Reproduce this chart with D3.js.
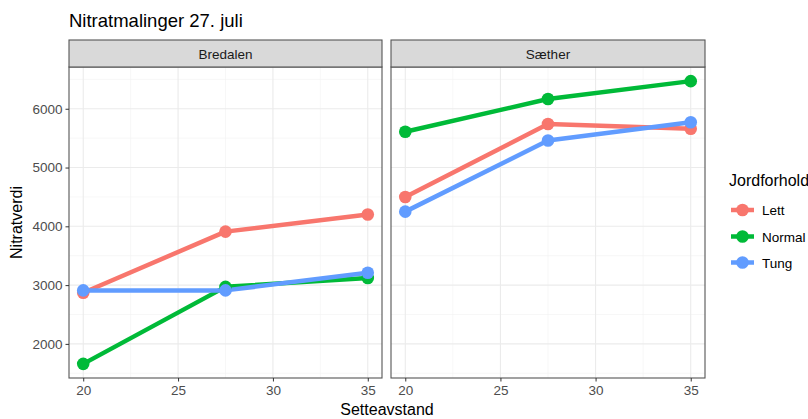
<!DOCTYPE html>
<html>
<head>
<meta charset="utf-8">
<script src="https://cdn.jsdelivr.net/npm/d3@7"></script>
<style>
  body { margin: 0; background: #fff; }
  text { font-family: "Liberation Sans", Arial, sans-serif; }
</style>
</head>
<body>
<svg id="chart" width="808" height="419"></svg>
<script>
// Data
const facets = ['Bredalen', 'Sæther'];
const groups = ['Lett', 'Normal', 'Tung'];
const colors = ['#F8766D', '#00BA38', '#619CFF'];
const setteavstand = [20, 27.5, 35];
const bredalenLett = [2870, 3910, 4200];
const bredalenNormal = [1660, 2970, 3120];
const bredalenTung = [2910, 2910, 3210];
const saetherLett = [4500, 5740, 5660];
const saetherNormal = [5610, 6165, 6470];
const saetherTung = [4250, 5460, 5770];
const xTicks = [20, 25, 30, 35];
const yTicks = [2000, 3000, 4000, 5000, 6000];

const values = {
  'Bredalen': [bredalenLett, bredalenNormal, bredalenTung],
  'Sæther': [saetherLett, saetherNormal, saetherTung]
};

const svg = d3.select('#chart');

const panelTop = 67, panelBottom = 378;
const stripTop = 40;
const panelX = [[69, 382], [391, 705]];

// domains with 5% expansion like ggplot
const allY = Object.values(values).flat(2);
const yMin = d3.min(allY), yMax = d3.max(allY);
const yPad = (yMax - yMin) * 0.05;
const xPad = (d3.max(setteavstand) - d3.min(setteavstand)) * 0.05;

const y = d3.scaleLinear()
  .domain([yMin - yPad, yMax + yPad])
  .range([panelBottom, panelTop]);

const yMinor = d3.range(1500, 7000, 1000).filter(v => v > y.domain()[0] && v < y.domain()[1]);
const xMinor = [22.5, 27.5, 32.5];

// title
svg.append('text')
  .attr('x', 69).attr('y', 27)
  .attr('font-size', 18.5)
  .attr('fill', '#000')
  .text('Nitratmalinger 27. juli');

facets.forEach((facet, fi) => {
  const [x0, x1] = panelX[fi];
  const x = d3.scaleLinear()
    .domain([d3.min(setteavstand) - xPad, d3.max(setteavstand) + xPad])
    .range([x0, x1]);

  const g = svg.append('g');

  // grid
  g.selectAll('.ymin').data(yMinor).join('line')
    .attr('x1', x0).attr('x2', x1)
    .attr('y1', d => y(d)).attr('y2', d => y(d))
    .attr('stroke', '#F2F2F2').attr('stroke-width', 0.6);
  g.selectAll('.xmin').data(xMinor).join('line')
    .attr('y1', panelTop).attr('y2', panelBottom)
    .attr('x1', d => x(d)).attr('x2', d => x(d))
    .attr('stroke', '#F2F2F2').attr('stroke-width', 0.6);
  g.selectAll('.ymaj').data(yTicks).join('line')
    .attr('x1', x0).attr('x2', x1)
    .attr('y1', d => y(d)).attr('y2', d => y(d))
    .attr('stroke', '#EBEBEB').attr('stroke-width', 1.1);
  g.selectAll('.xmaj').data(xTicks).join('line')
    .attr('y1', panelTop).attr('y2', panelBottom)
    .attr('x1', d => x(d)).attr('x2', d => x(d))
    .attr('stroke', '#EBEBEB').attr('stroke-width', 1.1);

  // lines
  const line = d3.line()
    .x((d, i) => x(setteavstand[i]))
    .y(d => y(d));
  groups.forEach((grp, gi) => {
    g.append('path')
      .datum(values[facet][gi])
      .attr('d', line)
      .attr('fill', 'none')
      .attr('stroke', colors[gi])
      .attr('stroke-width', 4.5)
      .attr('stroke-linejoin', 'round');
  });
  groups.forEach((grp, gi) => {
    g.selectAll(null).data(values[facet][gi]).join('circle')
      .attr('cx', (d, i) => x(setteavstand[i]))
      .attr('cy', d => y(d))
      .attr('r', 6.3)
      .attr('fill', colors[gi]);
  });

  // panel border
  g.append('rect')
    .attr('x', x0).attr('y', panelTop)
    .attr('width', x1 - x0).attr('height', panelBottom - panelTop)
    .attr('fill', 'none').attr('stroke', '#555').attr('stroke-width', 1.1);

  // strip
  g.append('rect')
    .attr('x', x0).attr('y', stripTop)
    .attr('width', x1 - x0).attr('height', panelTop - stripTop)
    .attr('fill', '#D9D9D9').attr('stroke', '#555').attr('stroke-width', 1.1);
  g.append('text')
    .attr('x', (x0 + x1) / 2).attr('y', (stripTop + panelTop) / 2 + 5)
    .attr('text-anchor', 'middle')
    .attr('font-size', 13.5)
    .attr('fill', '#1A1A1A')
    .text(facet);

  // x axis
  const xAxis = g.append('g')
    .attr('transform', `translate(0,${panelBottom})`)
    .call(d3.axisBottom(x).tickValues(xTicks).tickSize(3.5).tickPadding(4).tickFormat(d3.format('d')));
  xAxis.select('.domain').remove();
  xAxis.selectAll('line').attr('stroke', '#333');
  xAxis.selectAll('text').attr('font-size', 13.5).attr('fill', '#4D4D4D')
    .attr('font-family', '"Liberation Sans", Arial, sans-serif');

  // y axis only on first facet
  if (fi === 0) {
    const yAxis = g.append('g')
      .attr('transform', `translate(${x0},0)`)
      .call(d3.axisLeft(y).tickValues(yTicks).tickSize(3.5).tickPadding(3).tickFormat(d3.format('d')));
    yAxis.select('.domain').remove();
    yAxis.selectAll('line').attr('stroke', '#333');
    yAxis.selectAll('text').attr('font-size', 13.5).attr('fill', '#4D4D4D')
      .attr('font-family', '"Liberation Sans", Arial, sans-serif');
  }
});

// axis titles
svg.append('text')
  .attr('x', (69 + 705) / 2).attr('y', 415)
  .attr('text-anchor', 'middle')
  .attr('font-size', 16)
  .attr('fill', '#000')
  .text('Setteavstand');
svg.append('text')
  .attr('transform', `translate(22,${(panelTop + panelBottom) / 2}) rotate(-90)`)
  .attr('text-anchor', 'middle')
  .attr('font-size', 16)
  .attr('fill', '#000')
  .text('Nitratverdi');

// legend
const legend = svg.append('g');
legend.append('text')
  .attr('x', 729).attr('y', 186)
  .attr('font-size', 16)
  .attr('fill', '#000')
  .text('Jordforhold');
const legendY = [210, 236.5, 262.5];
groups.forEach((grp, gi) => {
  const row = legend.append('g').attr('transform', `translate(0,${legendY[gi]})`);
  row.append('line')
    .attr('x1', 731).attr('x2', 754)
    .attr('stroke', colors[gi]).attr('stroke-width', 4.5);
  row.append('circle')
    .attr('cx', 742.5).attr('r', 6.3)
    .attr('fill', colors[gi]);
  row.append('text')
    .attr('x', 762).attr('y', 5)
    .attr('font-size', 13.5)
    .attr('fill', '#000')
    .text(grp);
});
</script>
</body>
</html>
